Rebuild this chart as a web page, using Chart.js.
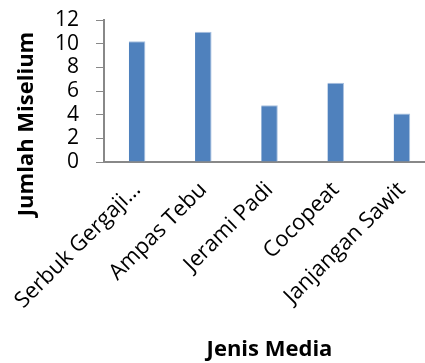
<!DOCTYPE html>
<html>
<head>
<meta charset="utf-8">
<script src="https://cdn.jsdelivr.net/npm/chart.js@4"></script>
<style>
  html, body { margin: 0; padding: 0; background: #fff; overflow: hidden; }
  #wrap { width: 435px; height: 363px; }
</style>
</head>
<body>
<div id="wrap"><canvas id="myChart"></canvas></div>
<script>
const categories = ['Serbuk Gergaji…', 'Ampas Tebu', 'Jerami Padi', 'Cocopeat', 'Janjangan Sawit'];
const miselium = [10.2, 11.0, 4.8, 6.7, 4.1];
const yTicks = [0, 2, 4, 6, 8, 10, 12];

const fontName = "'Open Sans', sans-serif";

// y title drawn by hand so it sits where the original has it
const yTitle = {
    id: 'yTitle',
    afterDraw(chart) {
        const c = chart.ctx;
        c.save();
        c.translate(27, 124);
        c.rotate(-Math.PI / 2);
        c.font = 'bold 22px ' + fontName;
        c.fillStyle = '#000';
        c.textAlign = 'center';
        c.textBaseline = 'middle';
        c.fillText('Jumlah Miselium', 0, 0);
        c.restore();
    }
};

let ctx = document.getElementById('myChart').getContext('2d');

let myChart = new Chart(ctx, {
    type: 'bar',
    data: {
        labels: categories,
        datasets: [{
            label: 'Jumlah Miselium',
            data: miselium,
            backgroundColor: '#4F81BD',
            borderColor: '#A9C1E0',
            borderWidth: { top: 1, right: 1, left: 0, bottom: 0 },
            barPercentage: 0.25,
            categoryPercentage: 1
        }]
    },
    options: {
        responsive: true,
        maintainAspectRatio: false,
        animation: false,
        layout: { padding: { left: 38, top: 0, right: 0, bottom: 0 } },
        plugins: {
            legend: { display: false },
            tooltip: { enabled: false }
        },
        scales: {
            x: {
                // the axis is taller than half the chart, so force its height
                afterFit: (axis) => {
                    axis.height = 201;
                    axis.paddingLeft = 0;
                    axis.paddingRight = 0;
                },
                grid: { display: false, drawTicks: false },
                border: { color: '#888', width: 2 },
                ticks: {
                    color: '#000',
                    font: { family: fontName, size: 22 },
                    minRotation: 45,
                    maxRotation: 45,
                    padding: 15,
                    autoSkip: false
                },
                title: {
                    display: true,
                    text: 'Jenis Media',
                    color: '#000',
                    font: { family: fontName, size: 22, weight: 'bold' },
                    padding: { top: 10, bottom: 0 }
                }
            },
            y: {
                min: 0,
                max: 12,
                afterBuildTicks: (axis) => {
                    axis.ticks = yTicks.map(v => ({ value: v }));
                },
                afterFit: (axis) => { axis.paddingTop = 20; },
                grid: { display: true, drawOnChartArea: false, tickLength: 8, color: '#888' },
                border: { color: '#888', width: 2 },
                ticks: {
                    color: '#000',
                    font: { family: fontName, size: 21 },
                    padding: 17,
                    autoSkip: false
                }
            }
        }
    },
    plugins: [yTitle]
});
</script>
</body>
</html>
